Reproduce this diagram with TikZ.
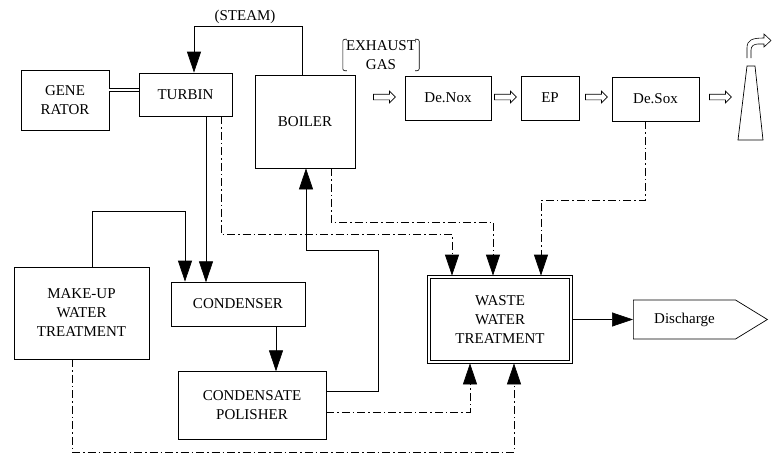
\documentclass[tikz,border=0pt]{standalone}
\usepackage{fontspec}
\setmainfont{Liberation Serif}
\usetikzlibrary{arrows.meta,shapes.arrows,shapes.symbols}

\tikzset{
	unit/.style={draw,line width=0.7pt,align=center,inner sep=2pt},
	flow/.style={line width=0.7pt,-{Triangle[length=21pt,width=14pt]}},
	drain/.style={flow,dash pattern=on 8pt off 3pt on 1.5pt off 3pt},
	gas/.style={draw,single arrow,single arrow head extend=3pt,inner sep=2.5pt,minimum height=22pt,line width=0.7pt}
}

\begin{document}
\begin{tikzpicture}[x=1pt,y=-1pt,font=\fontsize{15}{19}\selectfont]
	\useasboundingbox (0,0) rectangle (772,455);

	\node[unit,minimum width=88pt,minimum height=60pt] (gen) at (65,100) {GENE\\RATOR};
	\node[unit,minimum width=93pt,minimum height=43pt] (turbin) at (185.5,94.5) {TURBIN};
	\node[unit,minimum width=100pt,minimum height=93pt] (boiler) at (305,121.5) {BOILER};
	\node[unit,minimum width=86pt,minimum height=44pt] (denox) at (448,98) {De.Nox};
	\node[unit,minimum width=58pt,minimum height=44pt] (ep) at (550,98) {EP};
	\node[unit,minimum width=87pt,minimum height=44pt] (desox) at (655.5,99) {De.Sox};
	\node[unit,minimum width=135pt,minimum height=92pt] (makeup) at (81.5,313) {MAKE-UP\\WATER\\TREATMENT};
	\node[unit,minimum width=134pt,minimum height=44pt] (condenser) at (238,304) {CONDENSER};
	\node[unit,minimum width=148pt,minimum height=68pt] (polisher) at (252,405) {CONDENSATE\\POLISHER};
	\node[unit,minimum width=139pt,minimum height=82pt] (waste) at (500,319.5) {WASTE\\WATER\\TREATMENT};
	\draw[line width=0.7pt] (waste.north west) ++(-2.5,-2.5) rectangle ([shift={(2.5pt,-2.5pt)}]waste.south east);
	\node[draw,signal,signal to=east,signal pointer angle=63,minimum width=134pt,minimum height=39pt,line width=0.7pt,anchor=west] (discharge) at (633,319.5) {Discharge};

	\node (steam) at (245,17) {(STEAM)};
	\node[inner xsep=3pt,inner ysep=1pt,align=center] (exhaust) at (381,55) {EXHAUST\\GAS};
	\draw[line width=0.6pt,rounded corners=2pt] (exhaust.north west) ++(4,0) -| (exhaust.south west) -- ++(4,0);
	\draw[line width=0.6pt,rounded corners=2pt] (exhaust.north east) ++(-4,0) -| (exhaust.south east) -- ++(-4,0);

	\foreach \x/\n in {383/g1,504/g2,595/g3,719/g4}
		\node[gas] (\n) at (\x,97) {};

	\draw[line width=0.7pt] (738,140) -- (747,66) -- (755,66) -- (763,140) -- cycle;
	\draw[line width=0.6pt] (747,58) -- (747,48) .. controls (747,40) and (752,38) .. (764,38)
		-- (764,34) -- (771,40.5) -- (764,47) -- (764,44) -- (758,44)
		.. controls (754,44) and (751,46) .. (751,50) -- (751,58);

	\coordinate (shaft) at (120,90);
	\draw[double,double distance=2pt,line width=0.6pt] (gen.east |- shaft) -- (turbin.west |- shaft);

	\draw[flow] ([xshift=-3pt]boiler.north) -- ++(0,-48) -| ([xshift=8.5pt]turbin.north);
	\draw[flow] ([xshift=20.5pt]turbin.south) -- ++(0,166);
	\draw[flow] ([xshift=10.5pt]makeup.north) -- ++(0,-55) -| ([xshift=-53pt]condenser.north);
	\draw[flow] ([xshift=38pt]condenser.south) -- ++(0,45);
	\draw[flow] ([yshift=14pt]polisher.east) -- ++(52,0) -- ++(0,-141) -| ([xshift=1pt]boiler.south);
	\draw[flow] ([xshift=2.5pt]waste.east) -- (discharge.west);

	\draw[drain] ([xshift=35.5pt]turbin.south) -- ++(0,118) -| ([xshift=-48pt,yshift=2.5pt]waste.north);
	\draw[drain] ([xshift=26pt]boiler.south) -- ++(0,54) -| ([xshift=-7pt,yshift=2.5pt]waste.north);
	\draw[drain] ([xshift=-10.5pt]desox.south) -- ++(0,79) -| ([xshift=41pt,yshift=2.5pt]waste.north);
	\draw[drain] ([yshift=-7pt]polisher.east) -| ([xshift=-30pt,yshift=-2.5pt]waste.south);
	\draw[drain] ([xshift=-9.5pt]makeup.south) -- ++(0,93) -| ([xshift=14pt,yshift=-2.5pt]waste.south);
\end{tikzpicture}
\end{document}
